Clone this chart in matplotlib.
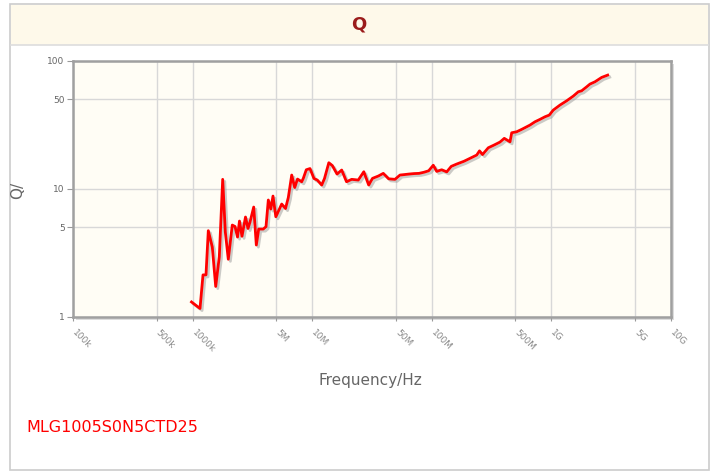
import numpy as np
import matplotlib
matplotlib.use("Agg")
import matplotlib.pyplot as plt
import matplotlib.patheffects as pe
import matplotlib.transforms as mtransforms
from matplotlib.patches import Rectangle

# frequency in MHz, Q
freq_mhz = [0.979, 1.153, 1.222, 1.294, 1.353, 1.461, 1.560, 1.672, 1.785, 1.877,
            1.988, 2.147, 2.262, 2.374, 2.466, 2.588, 2.769, 2.905, 3.020, 3.243,
            3.410, 3.571, 3.901, 4.109, 4.296, 4.506, 4.701, 4.963, 5.308, 5.559,
            5.981, 6.313, 6.741, 7.141, 7.537, 8.172, 8.428, 8.925, 9.585, 10.35,
            11.03, 12.01, 12.67, 13.77, 14.73, 16.13, 17.65, 19.36, 21.39, 24.29,
            27.01, 29.68, 31.93, 35.70, 39.30, 43.62, 49.24, 54.22, 59.11, 64.47,
            71.02, 78.17, 86.06, 94.2, 102.9, 109.9, 121.0, 133.3, 145.6, 161.5,
            185.9, 208.6, 237.4, 250.5, 265.4, 296.8, 331.2, 371.7, 403.7, 436.2,
            450.7, 465.7, 512.8, 564.7, 621.8, 662.3, 729.4, 803.1, 884.4, 960.2,
            1037, 1180, 1343, 1524, 1679, 1792, 1974, 2102, 2314, 2634, 2956]
q_vals = [1.31, 1.165, 2.13, 2.13, 4.71, 3.51, 1.73, 2.95, 11.84, 4.60,
          2.82, 5.21, 5.08, 4.20, 5.60, 4.26, 6.02, 4.90, 5.50, 7.20,
          3.64, 4.85, 4.85, 5.06, 8.17, 6.95, 8.77, 6.05, 6.91, 7.60,
          7.01, 8.54, 12.79, 10.22, 11.90, 11.34, 12.05, 14.06, 14.37, 12.01,
          11.69, 10.69, 12.01, 15.95, 15.16, 13.02, 13.99, 11.34, 11.84, 11.69,
          13.57, 10.69, 12.05, 12.56, 13.18, 11.95, 11.84, 12.79, 12.90, 13.02,
          13.13, 13.18, 13.45, 13.81, 15.25, 13.66, 14.06, 13.54, 14.95, 15.58,
          16.38, 17.26, 18.31, 19.74, 18.48, 20.87, 21.90, 23.12, 24.71, 23.66,
          23.24, 27.32, 27.82, 29.04, 30.42, 31.37, 33.28, 34.75, 36.41, 37.53,
          41.06, 44.92, 48.52, 52.78, 57.02, 58.06, 62.37, 65.48, 68.23, 73.83, 76.93]

x_ticks = [1e5, 5e5, 1e6, 5e6, 1e7, 5e7, 1e8, 5e8, 1e9, 5e9, 1e10]
x_labels = ['100k', '500k', '1000k', '5M', '10M', '50M', '100M', '500M', '1G', '5G', '10G']
y_ticks = [1, 5, 10, 50, 100]
y_labels = ['1', '5', '10', '50', '100']

W, H = 717, 474
fig = plt.figure(figsize=(W / 100, H / 100), dpi=100)
fig.patch.set_facecolor('white')

def fx(px):
    return px / W

def fy(py):
    return 1 - py / H

# outer panel and title band
fig.patches.append(Rectangle((fx(10), fy(470)), fx(699), 466 / H, transform=fig.transFigure,
                             facecolor='white', edgecolor='#cccccc', lw=1.2, zorder=-3))
fig.patches.append(Rectangle((fx(11), fy(45)), fx(697), 40 / H, transform=fig.transFigure,
                             facecolor='#fef9ea', edgecolor='none', zorder=-2))
fig.add_artist(plt.Line2D([fx(11), fx(708)], [fy(45), fy(45)], transform=fig.transFigure,
                          color='#dddddd', lw=1.2, zorder=-1))
fig.text(fx(359), fy(25), 'Q', ha='center', va='center', fontsize=13, fontweight='bold',
         color='#9b1c1c')

left, right, top, bottom = 73, 671, 60.5, 317
# frame shadow
fig.patches.append(Rectangle((fx(left + 3), fy(bottom + 3)), (right - left) / W, (bottom - top) / H,
                             transform=fig.transFigure, facecolor='#dddddd', edgecolor='none', zorder=-1))
ax = fig.add_axes([fx(left), fy(bottom), (right - left) / W, (bottom - top) / H])
ax.set_zorder(2)
ax.set_facecolor('#fffdf5')

freq_hz = np.array(freq_mhz) * 1e6
ax.plot(freq_hz, q_vals, color='#ff0000', lw=2.0, solid_joinstyle='round',
        path_effects=[pe.SimpleLineShadow(offset=(1.5, -1.5), shadow_color='#999999', alpha=0.5),
                      pe.Normal()], zorder=3)

ax.set_xscale('log')
ax.set_yscale('log')
ax.set_xlim(1e5, 1e10)
ax.set_ylim(1, 100)
ax.set_xticks(x_ticks)
ax.set_xticklabels(x_labels)
ax.set_yticks(y_ticks)
ax.set_yticklabels(y_labels)
ax.minorticks_off()
ax.grid(True, color='#d8d8d8', lw=1)

for s in ax.spines.values():
    s.set_color('#a0a0a0')
    s.set_linewidth(1.8)

ax.tick_params(axis='y', direction='out', length=4, color='#999999', labelsize=6.5,
               labelcolor='#666666', pad=2)
ax.tick_params(axis='x', direction='out', length=3, color='#999999', labelsize=6.5,
               labelcolor='#888888', pad=5)
shift = mtransforms.ScaledTranslation(4 / 100, 0, fig.dpi_scale_trans)
for lab in ax.get_xticklabels():
    lab.set_rotation(-45)
    lab.set_ha('left')
    lab.set_va('top')
    lab.set_rotation_mode('anchor')
    lab.set_transform(lab.get_transform() + shift)

fig.text(fx(18), fy(190), 'Q/', rotation=90, ha='center', va='center', fontsize=11, color='#666666')
fig.text(fx(370), fy(380), 'Frequency/Hz', ha='center', va='center', fontsize=11, color='#666666')
fig.text(fx(26), fy(427), 'MLG1005S0N5CTD25', ha='left', va='center', fontsize=11.5, color='#ff0000')

fig.savefig('out.png', dpi=100)
